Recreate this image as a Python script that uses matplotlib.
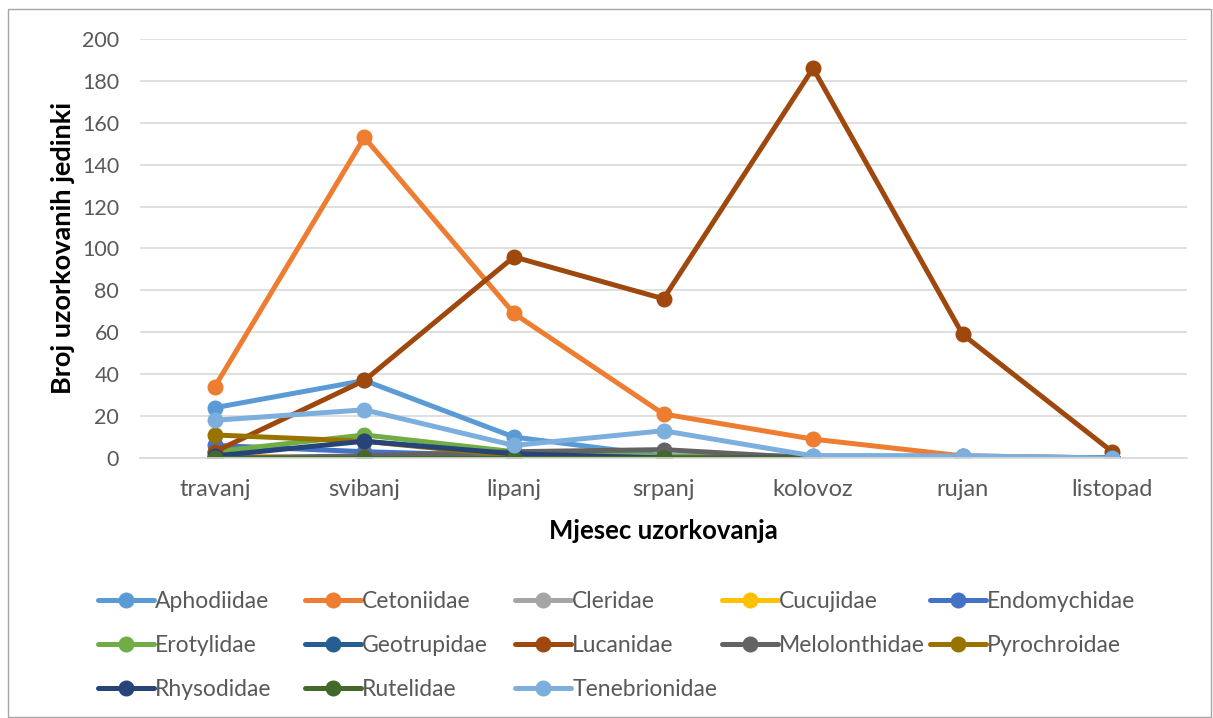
import matplotlib.pyplot as plt
from matplotlib.patches import Rectangle

plt.rcParams['font.family'] = ['Lato', 'DejaVu Sans']

months = ["travanj", "svibanj", "lipanj", "srpanj", "kolovoz", "rujan", "listopad"]

families = ["Aphodiidae", "Cetoniidae", "Cleridae", "Cucujidae", "Endomychidae",
            "Erotylidae", "Geotrupidae", "Lucanidae", "Melolonthidae", "Pyrochroidae",
            "Rhysodidae", "Rutelidae", "Tenebrionidae"]

aphodiidae = [24, 37, 10, 1, 1, 1, 0]
cetoniidae = [34, 153, 69, 21, 9, 1, 0]
cleridae = [0, 0, 0, 0, 0, 0, 0]
cucujidae = [1, 0, 0, 0, 0, 0, 0]
endomychidae = [6, 3, 1, 0, 0, 0, 0]
erotylidae = [3, 11, 3, 1, 0, 0, 0]
geotrupidae = [0, 0, 0, 0, 0, 0, 0]
lucanidae = [3, 37, 96, 76, 186, 59, 3]
melolonthidae = [0, 1, 3, 4, 0, 0, 0]
pyrochroidae = [11, 8, 1, 0, 0, 0, 0]
rhysodidae = [1, 8, 2, 0, 0, 0, 0]
rutelidae = [0, 0, 0, 0, 0, 0, 0]
tenebrionidae = [18, 23, 6, 13, 1, 1, 0]

values = [aphodiidae, cetoniidae, cleridae, cucujidae, endomychidae, erotylidae,
          geotrupidae, lucanidae, melolonthidae, pyrochroidae, rhysodidae,
          rutelidae, tenebrionidae]

colors = ["#5B9BD5", "#ED7D31", "#A5A5A5", "#FFC000", "#4472C4", "#70AD47",
          "#255E91", "#9E480E", "#636363", "#997300", "#264478", "#43682B",
          "#7CAFDD"]

fig = plt.figure(figsize=(12.13, 7.18), dpi=100)
ax = fig.add_axes([140/1213, 1-458/718, 1047/1213, 419/718])

x = range(len(months))
handles = []
for name, vals, c in zip(families, values, colors):
    h, = ax.plot(x, vals, color=c, lw=3.6, marker='o', ms=10.5, label=name,
                 solid_capstyle='round')
    handles.append(h)

ax.set_xlim(-0.5, 6.5)
ax.set_ylim(0, 200)
ax.set_yticks(range(0, 201, 20))
ax.set_xticks(list(x))
ax.set_xticklabels(months)
ax.grid(axis='y', color='#D9D9D9', lw=1.2)
ax.set_axisbelow(True)
for s in ['top', 'right', 'left']:
    ax.spines[s].set_visible(False)
ax.spines['bottom'].set_color('#D9D9D9')
ax.spines['bottom'].set_linewidth(1.2)
ax.tick_params(length=0, colors='#595959')
ax.tick_params(axis='y', labelsize=15.5, pad=15)
ax.tick_params(axis='x', labelsize=17, pad=15)
ax.set_ylabel("Broj uzorkovanih jedinki", fontsize=19.5, fontweight='bold', labelpad=5)
ax.set_xlabel("Mjesec uzorkovanja", fontsize=18.5, fontweight='bold', labelpad=14)

# legend: one block per column so columns are evenly spaced like Excel
col_x = [98, 305, 515, 722, 930]
for c, xpos in enumerate(col_x):
    hs = handles[c::5]
    leg = fig.legend(hs, [h.get_label() for h in hs], loc='upper left',
                     bbox_to_anchor=(xpos/1213, 1-591/718), frameon=False,
                     fontsize=16.5, handlelength=2.45, handletextpad=0.05,
                     labelspacing=1.0, borderaxespad=0, borderpad=0)
    for t in leg.get_texts():
        t.set_color('#595959')

fig.patches.append(Rectangle((8/1213, 0.002), 1 - 10/1213, 1 - 10/718,
                             transform=fig.transFigure, fill=False,
                             edgecolor='#A6A6A6', lw=1))

fig.savefig("out.png", dpi=100)
